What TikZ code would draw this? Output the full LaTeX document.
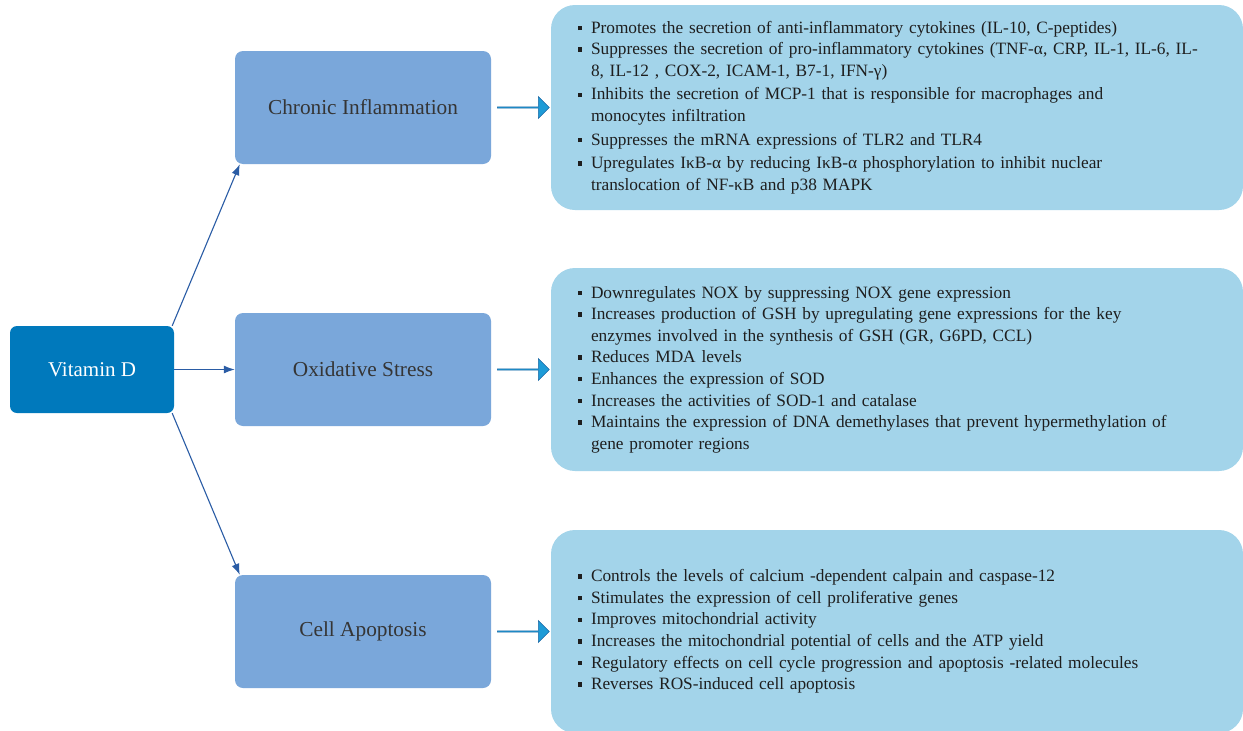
\documentclass[tikz,border=0pt]{standalone}
\usepackage{fontspec}
\setmainfont{Liberation Serif}
\usetikzlibrary{arrows.meta,shapes.arrows}
\definecolor{vdblue}{RGB}{0,121,188}
\definecolor{catblue}{RGB}{122,167,218}
\definecolor{txtblue}{RGB}{163,212,234}
\definecolor{barrow}{RGB}{29,155,215}
\definecolor{barrowedge}{RGB}{30,105,165}
\definecolor{connc}{RGB}{42,92,165}
\definecolor{ink}{RGB}{30,30,30}
\newcommand\bul{\makebox[13pt][l]{\rule[3pt]{4.4pt}{4.4pt}}}
\newcommand\cont{\hspace*{13pt}}
\begin{document}
\begin{tikzpicture}[x=1pt,y=-1pt,
  vdbox/.style={rectangle,rounded corners=7pt,fill=vdblue,text=white,minimum width=164pt,minimum height=87pt,font=\fontsize{21}{24}\selectfont},
  catbox/.style={rectangle,rounded corners=8pt,fill=catblue,text=ink!90,minimum width=256pt,minimum height=113pt,font=\fontsize{21.3}{24}\selectfont},
  txtbox/.style={rectangle,rounded corners=24pt,fill=txtblue,text=ink,minimum width=692pt,text width=638pt,inner xsep=27pt,inner ysep=0pt,align=left,font=\fontsize{17.3}{21.6}\selectfont},
  blockarr/.style={single arrow,fill=barrow,draw=barrowedge,line width=0.6pt,minimum width=22pt,single arrow head extend=5pt,minimum height=52pt,inner sep=0pt,single arrow tip angle=90},
  conn/.style={draw=connc,line width=1.1pt,-{Latex[length=11pt,width=8pt]}}]
\useasboundingbox (0,0) rectangle (1243,731);
\clip (0,0) rectangle (1243,731);
\fill[white] (0,0) rectangle (1243,731);

\node[vdbox] (vd) at (92,369.5) {Vitamin D};
\node[catbox] (ci) at (363,107.5) {Chronic Inflammation};
\node[catbox] (os) at (363,369.5) {Oxidative Stress};
\node[catbox] (ca) at (363,631.5) {Cell Apoptosis};

\node[blockarr] (a1) at (523,107.5) {};
\node[blockarr] (a2) at (523,369.5) {};
\node[blockarr] (a3) at (523,631.5) {};

\node[txtbox,minimum height=205pt] (t1) at (897,107.5) {%
\bul Promotes the secretion of anti-inflammatory cytokines (IL-10, C-peptides)\\
\bul Suppresses the secretion of pro-inflammatory cytokines (TNF-α, CRP, IL-1, IL-6, IL-\\
\cont 8, IL-12 , COX-2, ICAM-1, B7-1, IFN-γ)\\[2pt]
\bul Inhibits the secretion of MCP-1 that is responsible for macrophages and\\
\cont monocytes infiltration\\[2pt]
\bul Suppresses the mRNA expressions of TLR2 and TLR4\\[2pt]
\bul Upregulates IκB-α by reducing IκB-α phosphorylation to inhibit nuclear\\
\cont translocation of NF-κB and p38 MAPK};

\node[txtbox,minimum height=203pt] (t2) at (897,369.5) {%
\bul Downregulates NOX by suppressing NOX gene expression\\
\bul Increases production of GSH by upregulating gene expressions for the key\\
\cont enzymes involved in the synthesis of GSH (GR, G6PD, CCL)\\
\bul Reduces MDA levels\\
\bul Enhances the expression of SOD\\
\bul Increases the activities of SOD-1 and catalase\\
\bul Maintains the expression of DNA demethylases that prevent hypermethylation of\\
\cont gene promoter regions};

\node[txtbox,minimum height=203pt] (t3) at (897,631.5) {%
\bul Controls the levels of calcium -dependent calpain and caspase-12\\
\bul Stimulates the expression of cell proliferative genes\\
\bul Improves mitochondrial activity\\
\bul Increases the mitochondrial potential of cells and the ATP yield\\
\bul Regulatory effects on cell cycle progression and apoptosis -related molecules\\
\bul Reverses ROS-induced cell apoptosis};

\draw[conn] ([xshift=-2pt]vd.north east) -- ([xshift=5pt]ci.south west);
\draw[conn] (vd.east) -- (os.west);
\draw[conn] ([xshift=-2pt]vd.south east) -- ([xshift=5pt]ca.north west);
\end{tikzpicture}
\end{document}
